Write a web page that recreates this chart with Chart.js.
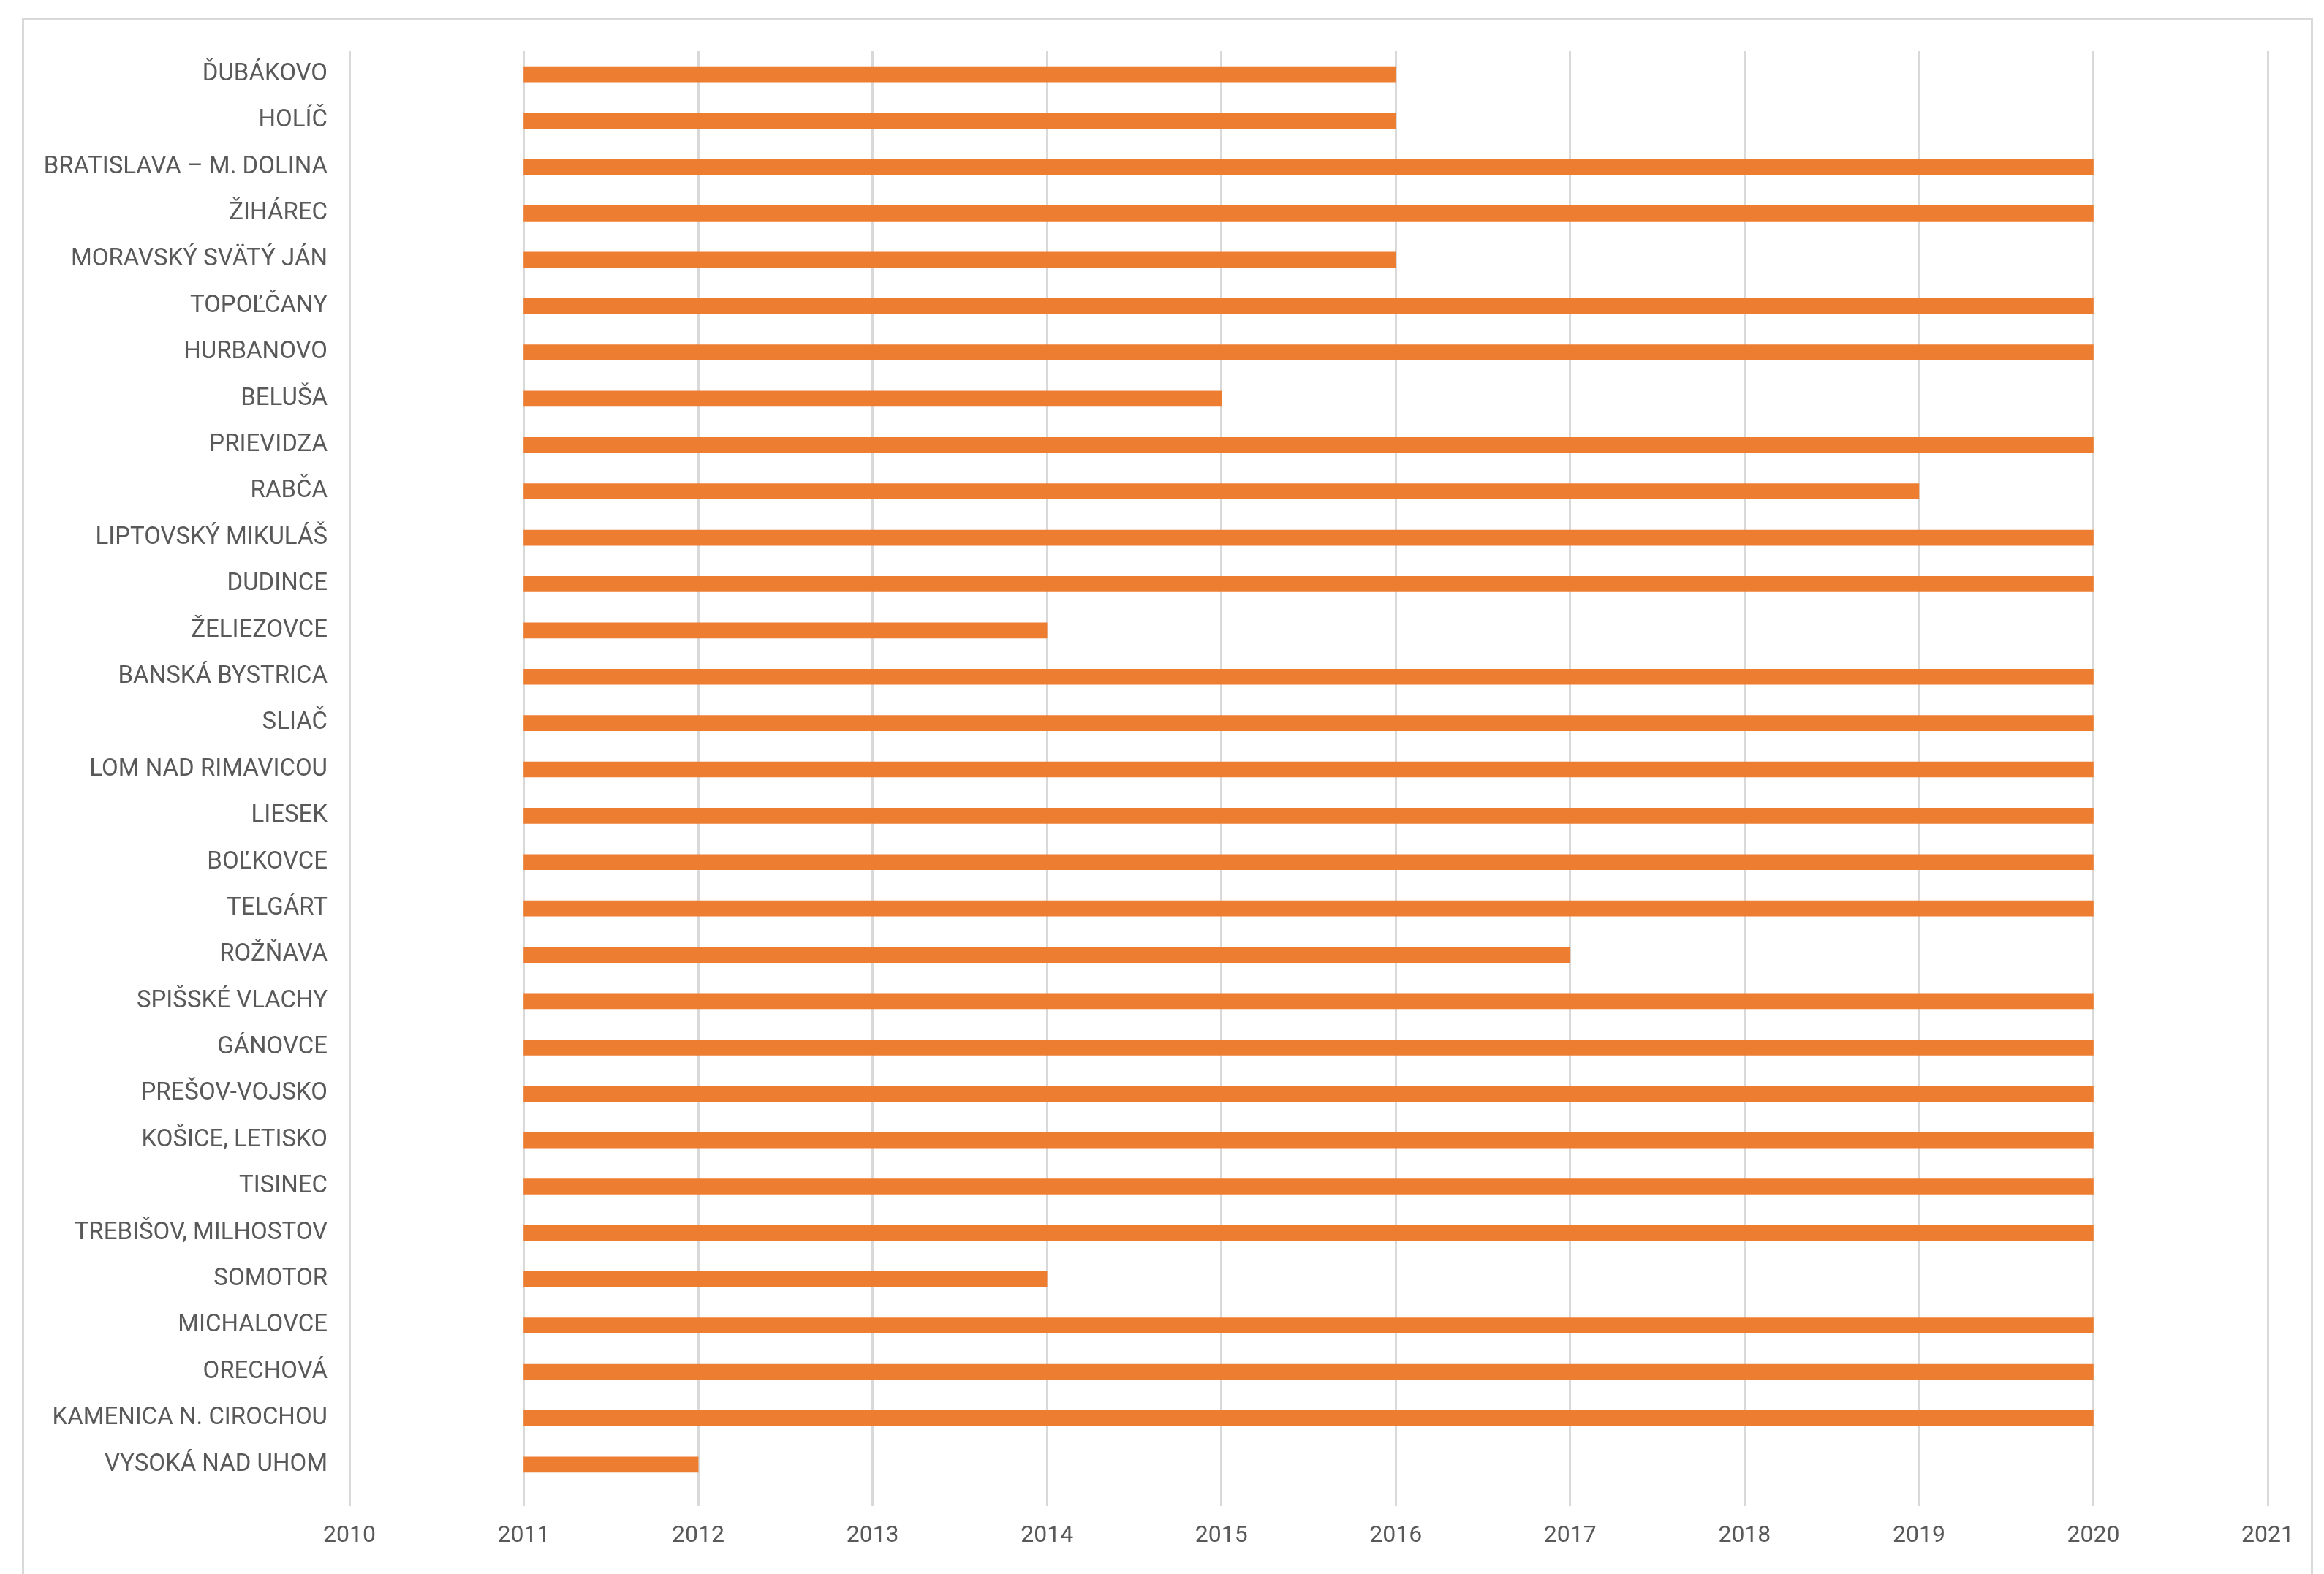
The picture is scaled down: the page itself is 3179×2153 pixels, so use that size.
<!DOCTYPE html>
<html>
<head>
<meta charset="utf-8">
<script src="https://cdn.jsdelivr.net/npm/chart.js@4/dist/chart.umd.min.js"></script>
<style>
  html, body { margin: 0; padding: 0; background: #fff; overflow: hidden; }
  #frame { position: absolute; left: 30px; top: 24px; width: 3134px; height: 2200px; border: 3px solid #d9d9d9; box-sizing: border-box; }
  #chart { position: absolute; left: 0; top: 0; }
</style>
</head>
<body>
<div id="frame"></div>
<canvas id="chart" width="3179" height="2153"></canvas>
<script>
// stanice a roky merania
const stations = [
  'ĎUBÁKOVO', 'HOLÍČ', 'BRATISLAVA – M. DOLINA', 'ŽIHÁREC', 'MORAVSKÝ SVÄTÝ JÁN',
  'TOPOĽČANY', 'HURBANOVO', 'BELUŠA', 'PRIEVIDZA', 'RABČA',
  'LIPTOVSKÝ MIKULÁŠ', 'DUDINCE', 'ŽELIEZOVCE', 'BANSKÁ BYSTRICA', 'SLIAČ',
  'LOM NAD RIMAVICOU', 'LIESEK', 'BOĽKOVCE', 'TELGÁRT', 'ROŽŇAVA',
  'SPIŠSKÉ VLACHY', 'GÁNOVCE', 'PREŠOV-VOJSKO', 'KOŠICE, LETISKO', 'TISINEC',
  'TREBIŠOV, MILHOSTOV', 'SOMOTOR', 'MICHALOVCE', 'ORECHOVÁ', 'KAMENICA N. CIROCHOU',
  'VYSOKÁ NAD UHOM'
];
const startYears = [
  2011, 2011, 2011, 2011, 2011, 2011, 2011, 2011, 2011, 2011,
  2011, 2011, 2011, 2011, 2011, 2011, 2011, 2011, 2011, 2011,
  2011, 2011, 2011, 2011, 2011, 2011, 2011, 2011, 2011, 2011,
  2011
];
const endYears = [
  2016, 2016, 2020, 2020, 2016, 2020, 2020, 2015, 2020, 2019,
  2020, 2020, 2014, 2020, 2020, 2020, 2020, 2020, 2020, 2017,
  2020, 2020, 2020, 2020, 2020, 2020, 2014, 2020, 2020, 2020,
  2012
];
const yearMin = 2010;
const yearMax = 2021;

const FONT = "Roboto, 'Liberation Sans', sans-serif";

new Chart(document.getElementById('chart'), {
  type: 'bar',
  data: {
    labels: stations,
    datasets: [{
      data: stations.map((s, i) => [startYears[i], endYears[i]]),
      backgroundColor: '#ED7D31',
      borderSkipped: false,
      barThickness: 21
    }]
  },
  options: {
    indexAxis: 'y',
    responsive: false,
    animation: false,
    layout: { padding: { left: 0, top: 70, right: 77, bottom: 0 } },
    scales: {
      x: {
        min: yearMin,
        max: yearMax,
        ticks: { stepSize: 1, color: '#595959', font: { family: FONT, size: 32 }, padding: 22,
                 callback: v => String(v) },
        grid: { color: '#d9d9d9', lineWidth: 3, drawTicks: true, tickLength: 25, tickColor: '#d9d9d9' },
        border: { display: false },
        afterFit: s => { s.height = 118; }
      },
      y: {
        ticks: { color: '#595959', font: { family: FONT, size: 33 }, padding: 30, autoSkip: false },
        grid: { display: false, drawTicks: false },
        border: { display: false },
        afterFit: s => { s.width = 478; }
      }
    },
    plugins: { legend: { display: false }, tooltip: { enabled: false } }
  }
});
</script>
</body>
</html>
